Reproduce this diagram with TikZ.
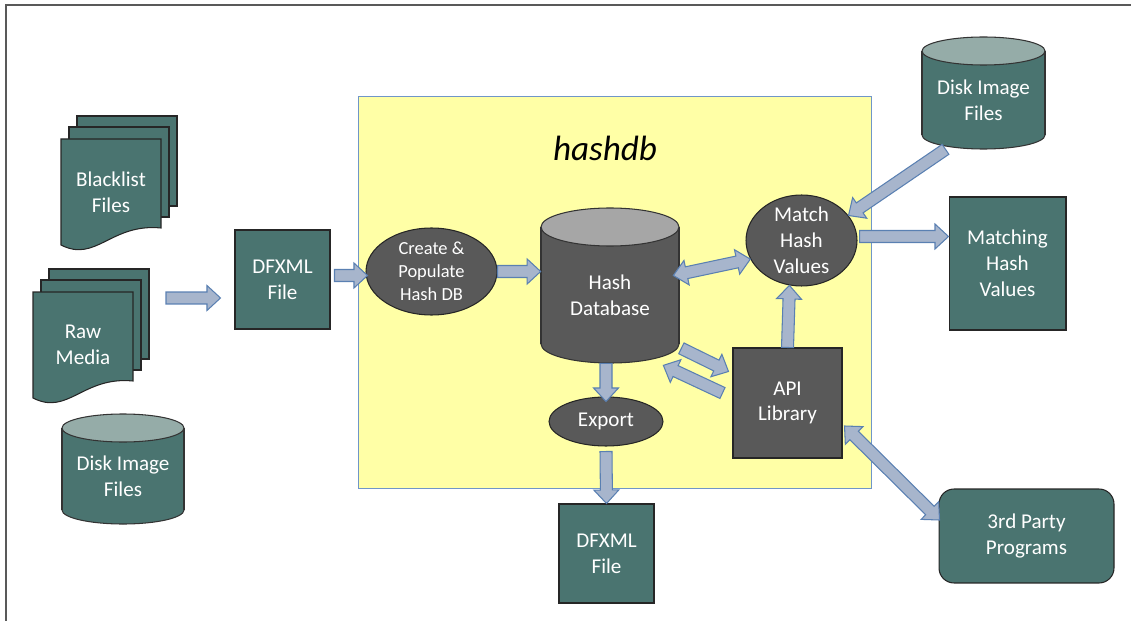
\documentclass[tikz,border=0pt]{standalone}
\usepackage{fontspec}
\setmainfont{Carlito}
\usetikzlibrary{positioning, calc, shapes.geometric}

\definecolor{docteal}{HTML}{4A7470}
\definecolor{lidteal}{HTML}{95ACA8}
\definecolor{procgray}{HTML}{595959}
\definecolor{lidgray}{HTML}{A6A6A6}
\definecolor{coreyellow}{HTML}{FFFFA6}
\definecolor{coreline}{HTML}{7096C8}
\definecolor{flowfill}{HTML}{A7B5CC}
\definecolor{flowline}{HTML}{5A80B2}

\newcommand{\pxu}{0.02cm}
\newcommand{\arwbody}{0.12cm}
\newcommand{\arwhead}{0.25cm}
\newcommand{\arwlen}{0.27cm}

% fat arrow from #1 to #2
\newcommand{\blockarrow}[2]{%
    \path #1 coordinate (ba-s);
    \path #2 coordinate (ba-e);
    \path ($(ba-e)!\arwlen!(ba-s)$) coordinate (ba-c);
    \filldraw[flow] ($(ba-s)!\arwbody!90:(ba-e)$) -- ($(ba-c)!\arwbody!90:(ba-e)$)
        -- ($(ba-c)!\arwhead!90:(ba-e)$) -- (ba-e) -- ($(ba-c)!\arwhead!-90:(ba-e)$)
        -- ($(ba-c)!\arwbody!-90:(ba-e)$) -- ($(ba-s)!\arwbody!-90:(ba-e)$) -- cycle;
}
% fat arrow with a head at both ends
\newcommand{\doublearrow}[2]{%
    \path #1 coordinate (da-s);
    \path #2 coordinate (da-e);
    \path ($(da-s)!\arwlen!(da-e)$) coordinate (da-cs);
    \path ($(da-e)!\arwlen!(da-s)$) coordinate (da-ce);
    \filldraw[flow] (da-s) -- ($(da-cs)!\arwhead!90:(da-e)$) -- ($(da-cs)!\arwbody!90:(da-e)$)
        -- ($(da-ce)!\arwbody!90:(da-e)$) -- ($(da-ce)!\arwhead!90:(da-e)$) -- (da-e)
        -- ($(da-ce)!\arwhead!-90:(da-e)$) -- ($(da-ce)!\arwbody!-90:(da-e)$)
        -- ($(da-cs)!\arwbody!-90:(da-e)$) -- ($(da-cs)!\arwhead!-90:(da-e)$) -- cycle;
}
% cylinder: name, x, lid y, base y, half width, ellipse half height, body, lid, text
\newcommand{\drum}[9]{%
    \node[rim, fill=#7, minimum width={2*#5*\pxu}, minimum height={2*#6*\pxu}] at (#2,#4) {};
    \fill[#7] ({#2-#5},#3) rectangle ({#2+#5},#4);
    \draw[black!80, line width=0.6pt] ({#2-#5},#3) -- ({#2-#5},#4) ({#2+#5},#3) -- ({#2+#5},#4);
    \node[rim, fill=#8, minimum width={2*#5*\pxu}, minimum height={2*#6*\pxu}] at (#2,#3) {};
    \node[inner sep=0pt, minimum width={2*#5*\pxu}, minimum height={(#4-#3+2*#6)*\pxu}] (#1) at (#2,{(#3+#4)/2}) {};
    \node[wtext] (#1-t) at ($(#1.center)+(0,{#6/2})$) {#9};
}
% stack of three pages: name, x, y of front page, text
\newcommand{\docstack}[4]{%
    \foreach \dx/\dy in {16/23, 8/12}
        \filldraw[page] ({#2+\dx},{#3-\dy}) rectangle ({#2+\dx+100},{#3-\dy+90});
    \filldraw[page] (#2,#3) -- ({#2+100},#3) -- ({#2+100},{#3+89})
        .. controls ({#2+50},{#3+84}) and ({#2+35},{#3+124}) .. (#2,{#3+106}) -- cycle;
    \node[wtext] (#1) at ({#2+50},{#3+53}) {#4};
}

\begin{document}
\begin{tikzpicture}[
        x=0.02cm, y=-0.02cm,
        wtext/.style={text=white, align=center, font=\fontsize{12}{14.7}\selectfont},
        page/.style={fill=docteal, draw=black!85, line width=0.6pt},
        rim/.style={ellipse, draw=black!80, line width=0.6pt, inner sep=0pt},
        databox/.style={wtext, rectangle, fill=docteal, draw=black!85, line width=0.6pt, minimum width=1.9cm, minimum height=1.98cm},
        proc/.style={wtext, ellipse, fill=procgray, draw=black!85, line width=0.6pt, inner xsep=0pt, inner ysep=-3pt},
        procbox/.style={wtext, rectangle, fill=procgray, draw=black!85, line width=0.6pt, minimum width=2.18cm, minimum height=2.2cm},
        flow/.style={fill=flowfill, draw=flowline, line width=0.6pt, line join=miter},
    ]
    \useasboundingbox (0,0) rectangle (1131,621);
    \draw[black!65, line width=0.9pt] (1131,5) -- (6,5) -- (6,621);

    % hashdb area
    \node[fill=coreyellow, draw=coreline, line width=0.6pt, minimum width=10.28cm, minimum height=7.86cm] (core) at (615,292.5) {};
    \node[font=\fontsize{20}{24}\selectfont\itshape] (coretitle) at (605,148) {hashdb};

    % inputs on the left
    \docstack{blacklist}{61}{139}{Blacklist\\Files}
    \docstack{raw}{33}{292}{Raw\\Media}
    \drum{disk}{123}{428}{510}{61}{14}{docteal}{lidteal}{Disk Image\\Files}
    \node[databox] (dfxmlin) at (282.5,279.5) {DFXML\\File};

    % inside hashdb
    \node[proc, minimum width=2.62cm, minimum height=1.74cm, font=\fontsize{10.5}{13}\selectfont] (create) at (431.5,271.5) {Create \&\\Populate\\Hash DB};
    \drum{hdb}{610}{227}{344}{69}{19}{procgray}{lidgray}{Hash\\Database}
    \node[proc, minimum width=2.22cm, minimum height=1.82cm] (match) at (801.5,240.5) {Match\\Hash\\Values};
    \node[procbox] (api) at (787.5,403) {API\\Library};
    \node[proc, minimum width=2.28cm, minimum height=0.98cm] (export) at (606,421.5) {Export};

    % outputs
    \node[databox] (dfxmlout) at (606.5,553.5) {DFXML\\File};
    \drum{diskin}{983.5}{51}{135}{61.5}{14}{docteal}{lidteal}{Disk Image\\Files}
    \node[databox, minimum width=2.34cm, minimum height=2.66cm] (matching) at (1007.5,263.5) {Matching\\Hash\\Values};
    \node[databox, rounded corners=0.3cm, minimum width=3.5cm, minimum height=1.88cm] (third) at (1026.5,536) {3rd Party\\Programs};

    % arrows
    \coordinate (feed) at (166,298);
    \blockarrow{(feed)}{($(dfxmlin.west)+(-14,18.5)$)}
    \blockarrow{($(dfxmlin.east)+(4,-4)$)}{($(create.west)+(2,4)$)}
    \blockarrow{(create.east)}{(create.east -| hdb.west)}
    \doublearrow{($(hdb.east)+(-6,-10)$)}{(match.200)}
    \blockarrow{(api.north)}{(match.255)}
    \blockarrow{($(hdb.south east)+(2,-15)$)}{($(api.north west)+(-4,24)$)}
    \blockarrow{($(api.west)+(-10,-10)$)}{($(hdb.south east)+(-16,2)$)}
    \blockarrow{(hdb.south -| export.north)}{($(export.north)+(0,5)$)}
    \blockarrow{($(export.south)+(0,5)$)}{(dfxmlout.north)}
    \blockarrow{($(diskin.south)+(-38,0)$)}{(match.28)}
    \blockarrow{($(match.east)+(2,-4)$)}{($(match.east -| matching.west)+(0,-4)$)}
    \doublearrow{($(api.east)+(2,23)$)}{($(third.west)+(1,-16)$)}
\end{tikzpicture}
\end{document}
